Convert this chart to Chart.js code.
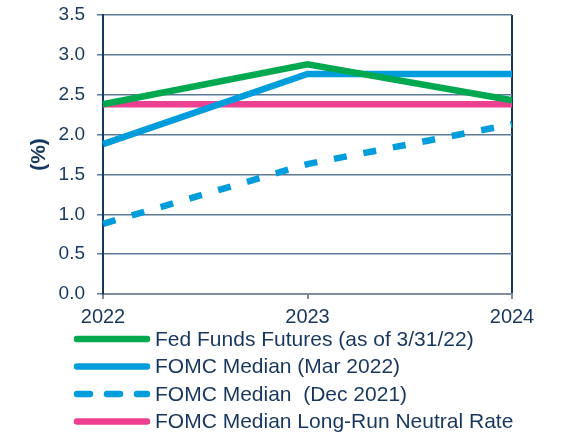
<!DOCTYPE html>
<html>
<head>
<meta charset="utf-8">
<script src="https://cdn.jsdelivr.net/npm/chart.js@4"></script>
<style>
  html, body { margin: 0; padding: 0; background: #fff; }
  canvas { display: block; }
</style>
</head>
<body>
<canvas id="rateChart" width="561" height="433"></canvas>
<script>
const years = ['2022', '2023', '2024'];
const fedFundsFutures = [2.38, 2.88, 2.43];
const fomcMar2022 = [1.88, 2.76, 2.76];
const fomcDec2021 = [0.88, 1.63, 2.13];
const neutralRate = [2.38, 2.38, 2.38];
const yTicks = [0, 0.5, 1.0, 1.5, 2.0, 2.5, 3.0, 3.5];

const navy = '#17375e';
const fontFamily = '"Liberation Sans", Arial, sans-serif';

/* legend drawn under the axis, one row per series */
const lineLegend = {
  id: 'lineLegend',
  afterDraw(chart) {
    const ctx = chart.ctx;
    const top = chart.chartArea.bottom + 45;
    ctx.save();
    ctx.font = '21px ' + fontFamily;
    ctx.textBaseline = 'middle';
    chart.data.datasets.forEach((ds, i) => {
      const y = top + i * 27.5;
      ctx.beginPath();
      ctx.strokeStyle = ds.borderColor;
      ctx.lineWidth = 6.5;
      ctx.lineCap = 'round';
      ctx.setLineDash(ds.borderDash || []);
      ctx.moveTo(77, y);
      ctx.lineTo(147, y);
      ctx.stroke();
      ctx.setLineDash([]);
      ctx.fillStyle = navy;
      ctx.fillText(ds.label, 155, y + 1);
    });
    ctx.restore();
  }
};

new Chart(document.getElementById('rateChart'), {
  type: 'line',
  data: {
    labels: years,
    datasets: [
      { label: 'Fed Funds Futures (as of 3/31/22)', data: fedFundsFutures, borderColor: '#00a84f' },
      { label: 'FOMC Median (Mar 2022)', data: fomcMar2022, borderColor: '#009ddc' },
      { label: 'FOMC Median  (Dec 2021)', data: fomcDec2021, borderColor: '#009ddc', borderDash: [13, 17] },
      { label: 'FOMC Median Long-Run Neutral Rate', data: neutralRate, borderColor: '#ec4090' }
    ]
  },
  options: {
    responsive: false,
    devicePixelRatio: 1,
    animation: false,
    layout: { padding: { top: 15, right: 49, bottom: 103, left: 0 } },
    elements: {
      line: { borderWidth: 6.5, tension: 0, borderCapStyle: 'butt', borderJoinStyle: 'miter' },
      point: { radius: 0, hoverRadius: 0 }
    },
    plugins: {
      legend: { display: false },
      tooltip: { enabled: false }
    },
    scales: {
      x: {
        offset: false,
        afterFit: s => { s.height = 36; },
        grid: {
          drawOnChartArea: true,
          color: c => (c.index === 1 ? 'rgba(0,0,0,0)' : navy),
          lineWidth: 2,
          tickColor: '#7f8c99',
          tickLength: 5
        },
        border: { color: '#7f8c99', width: 2 },
        ticks: { color: navy, padding: 6, font: { family: fontFamily, size: 20 }, maxRotation: 0 }
      },
      y: {
        min: 0,
        max: 3.5,
        afterFit: s => { s.width = 103; s.paddingTop = 0; s.paddingBottom = 0; },
        afterBuildTicks: s => { s.ticks = yTicks.map(v => ({ value: v })); },
        grid: { color: '#5b7b97', lineWidth: 1.5, tickColor: '#5b7b97', tickLength: 6 },
        border: { color: navy, width: 2 },
        ticks: {
          color: navy,
          padding: 12,
          font: { family: fontFamily, size: 19 },
          callback: v => v.toFixed(1)
        },
        title: {
          display: true,
          text: '(%)',
          color: navy,
          padding: { top: 27, bottom: 0 },
          font: { family: fontFamily, size: 21, weight: 'bold' }
        }
      }
    }
  },
  plugins: [lineLegend]
});
</script>
</body>
</html>
